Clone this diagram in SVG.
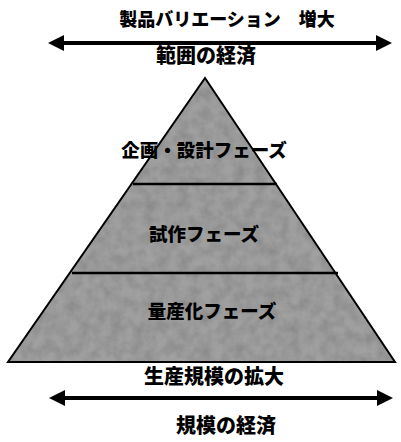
<svg xmlns="http://www.w3.org/2000/svg" width="401" height="442" viewBox="0 0 401 442">
<style>
.t{font-family:"Liberation Sans","Noto Sans CJK JP",sans-serif;font-weight:900;fill:#000;text-anchor:middle;dominant-baseline:central}
.arr{stroke:#000;stroke-width:4;fill:none}
.sep{stroke:#000;stroke-width:2.5}
</style>
<defs>
<marker id="ah" viewBox="0 0 16 16" refX="2" refY="8" markerWidth="16" markerHeight="16" markerUnits="userSpaceOnUse" orient="auto-start-reverse">
<path d="M0,0 L16,8 L0,16 Z" fill="#000"/>
</marker>
<filter id="tex" x="0" y="0" width="100%" height="100%">
<feTurbulence type="fractalNoise" baseFrequency="0.09" numOctaves="4" seed="4" result="n"/>
<feColorMatrix in="n" type="matrix" values="0 0 0 0 0.25  0 0 0 0 0.25  0 0 0 0 0.25  0 0 0 1.6 -0.45" result="dark"/>
<feComposite in="dark" in2="SourceGraphic" operator="in" result="d2"/>
<feMerge><feMergeNode in="SourceGraphic"/><feMergeNode in="d2"/></feMerge>
</filter>
</defs>
<g id="connectors">
<line class="arr" x1="62" y1="43" x2="378" y2="43" marker-start="url(#ah)" marker-end="url(#ah)"/>
<line class="arr" x1="63" y1="398" x2="379" y2="398" marker-start="url(#ah)" marker-end="url(#ah)"/>
</g>
<g id="pyramid">
<polygon points="205,78 395,362 8,362" fill="#a0a0a0" filter="url(#tex)"/>
<polygon points="205,78 395,362 8,362" fill="none" stroke="#000" stroke-width="2"/>
<line class="sep" x1="133" y1="184" x2="277" y2="184"/>
<line class="sep" x1="72" y1="273" x2="338" y2="273"/>
</g>
<g id="top-label"><text class="t" x="227" y="20" font-size="18">製品バリエーション　増大</text></g>
<g id="scope-label"><text class="t" x="206" y="56" font-size="20">範囲の経済</text></g>
<g id="phase1"><text class="t" x="204" y="150" font-size="18.5">企画・設計フェーズ</text></g>
<g id="phase2"><text class="t" x="204" y="234" font-size="18.5">試作フェーズ</text></g>
<g id="phase3"><text class="t" x="212" y="311" font-size="18.5">量産化フェーズ</text></g>
<g id="scale-up"><text class="t" x="214" y="377" font-size="20">生産規模の拡大</text></g>
<g id="scale-label"><text class="t" x="226" y="426" font-size="20">規模の経済</text></g>
</svg>
